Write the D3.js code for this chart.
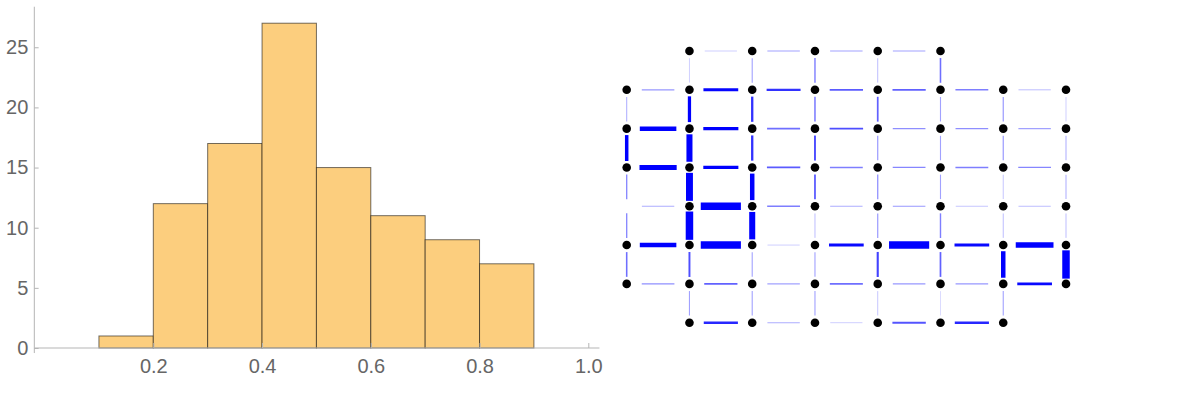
<!DOCTYPE html>
<html lang="en">
<head>
    <meta charset="utf-8">
    <script src="https://d3js.org/d3.v7.min.js"></script>
    <style>
        body { margin: 0; background: #fff; }
        text { font-family: "Liberation Sans", Arial, sans-serif; }
    </style>
</head>
<body>
<script>
    // histogram: bin edges and counts
    var binStarts = [0.1, 0.2, 0.3, 0.4, 0.5, 0.6, 0.7, 0.8];
    var binWidth = 0.1;
    var counts = [1, 12, 17, 27, 15, 11, 9, 7];
    var xTickLabels = [0.2, 0.4, 0.6, 0.8, 1.0];
    var yTickLabels = [0, 5, 10, 15, 20, 25];

    // grid graph: which columns exist in each row
    var rowCols = [
        [1, 2, 3, 4, 5],
        [0, 1, 2, 3, 4, 5, 6, 7],
        [0, 1, 2, 3, 4, 5, 6, 7],
        [0, 1, 2, 3, 4, 5, 6, 7],
        [0, 1, 2, 3, 4, 5, 6, 7],
        [0, 1, 2, 3, 4, 5, 6, 7],
        [0, 1, 2, 3, 4, 5, 6, 7],
        [1, 2, 3, 4, 5, 6]
    ];
    // vertex drawn without a dot
    var hiddenDots = [[4, 0]];

    // edge weights, horizontal: (r,c)-(r,c+1); null = no edge
    var hWeights = [
        [null, 0.01, 0.04, 0.04, 0.04, null, null],
        [0.05, 0.29, 0.20, 0.13, 0.12, 0.08, 0.02],
        [0.48, 0.32, 0.10, 0.15, 0.06, 0.06, 0.04],
        [0.55, 0.32, 0.13, 0.08, 0.07, 0.08, 0.07],
        [0.03, 0.87, 0.08, 0.03, 0.05, 0.015, 0.02],
        [0.48, 0.87, 0.01, 0.28, 0.87, 0.28, 0.61],
        [0.06, 0.12, 0.04, 0.10, 0.05, 0.05, 0.28],
        [null, 0.22, 0.03, 0.01, 0.14, 0.22, null]
    ];
    // edge weights, vertical: (r,c)-(r+1,c)
    var vWeights = [
        [null, 0.01, 0.04, 0.08, 0.02, 0.10, null, null],
        [0.03, 0.32, 0.20, 0.09, 0.12, 0.04, 0.05, 0.01],
        [0.35, 0.68, 0.20, 0.15, 0.05, 0.04, 0.05, 0.03],
        [0.07, 0.80, 0.48, 0.13, 0.06, 0.04, 0.015, 0.03],
        [0.07, 0.87, 0.68, 0.02, 0.05, 0.08, 0.02, 0.02],
        [0.10, 0.15, 0.04, 0.04, 0.17, 0.12, 0.48, 0.87],
        [null, 0.04, 0.04, 0.04, 0.015, 0.005, 0.04, null]
    ];

    var W = 1196, H = 403;
    var svg = d3.select("body").append("svg")
        .attr("width", W)
        .attr("height", H);

    // ---------- histogram ----------
    var x = d3.scaleLinear().domain([0, 1]).range([44.55, 588.3]);
    var y = d3.scaleLinear().domain([0, 27]).range([348, 23.2]);
    var axisColor = "#b5b5b5", labelColor = "#666";

    var hist = svg.append("g");

    hist.selectAll("rect")
        .data(counts)
        .enter()
        .append("rect")
        .attr("x", function (d, i) { return x(binStarts[i]); })
        .attr("width", function (d, i) { return x(binStarts[i] + binWidth) - x(binStarts[i]); })
        .attr("y", function (d) { return y(d); })
        .attr("height", function (d) { return y(0) - y(d); })
        .attr("fill", "#fcce7e")
        .attr("stroke", "rgba(0,0,0,0.55)")
        .attr("stroke-width", 1);

    // axis lines
    hist.append("line")
        .attr("x1", x(-0.0188)).attr("x2", x(1.0205))
        .attr("y1", y(0)).attr("y2", y(0))
        .attr("stroke", axisColor);
    hist.append("line")
        .attr("x1", x(-0.0188)).attr("x2", x(-0.0188))
        .attr("y1", y(-0.42)).attr("y2", y(28.37))
        .attr("stroke", axisColor);

    // x ticks
    var xMinor = d3.range(0, 1.0001, 0.05).filter(function (v) {
        return Math.abs(v * 5 - Math.round(v * 5)) > 1e-6 || v < 0.01;
    });
    var xg = hist.append("g").attr("transform", "translate(0," + y(0) + ")");
    xg.call(d3.axisBottom(x).tickValues(xMinor).tickSize(-2.7).tickFormat(""));
    xg.call(d3.axisBottom(x).tickValues(xTickLabels).tickSize(-5).tickPadding(11)
        .tickFormat(d3.format(".1f")));
    xg.selectAll(".domain").remove();
    xg.selectAll("line").attr("stroke", axisColor);
    xg.selectAll("text").attr("fill", labelColor).style("font-size", "20px")
        .style("font-family", "'Liberation Sans', Arial, sans-serif");

    // y ticks
    var yMinor = d3.range(0, 29).filter(function (v) { return v % 5 !== 0; });
    var yg = hist.append("g").attr("transform", "translate(" + x(-0.0188) + ",0)");
    yg.call(d3.axisLeft(y).tickValues(yMinor).tickSize(-2).tickFormat(""));
    yg.call(d3.axisLeft(y).tickValues(yTickLabels).tickSize(-4.3).tickPadding(6));
    yg.selectAll(".domain").remove();
    yg.selectAll("line").attr("stroke", axisColor);
    yg.selectAll("text").attr("fill", labelColor).style("font-size", "20px")
        .style("font-family", "'Liberation Sans', Arial, sans-serif");

    // ---------- grid graph ----------
    var gx = d3.scaleLinear().domain([0, 7]).range([626.7, 1066]);
    var gy = d3.scaleLinear().domain([0, 7]).range([51, 322.7]);
    var widthScale = d3.scaleLinear().domain([0, 1]).range([0.8, 8.5]);
    var opacityScale = d3.scalePow().exponent(0.6).domain([0, 0.3]).range([0.1, 1]).clamp(true);

    var edges = [];
    hWeights.forEach(function (row, r) {
        row.forEach(function (w, c) {
            if (w !== null) edges.push({ r: r, c: c, w: w, dir: "h" });
        });
    });
    vWeights.forEach(function (row, r) {
        row.forEach(function (w, c) {
            if (w !== null) edges.push({ r: r, c: c, w: w, dir: "v" });
        });
    });

    var graph = svg.append("g");

    graph.selectAll("line.edge")
        .data(edges)
        .enter()
        .append("line")
        .attr("class", "edge")
        .each(function (d) {
            var sw = widthScale(d.w);
            var el = d3.select(this);
            if (d.dir === "h") {
                var gap = 15.8 - 0.6 * sw;
                el.attr("x1", gx(d.c) + gap).attr("x2", gx(d.c + 1) - gap)
                  .attr("y1", gy(d.r)).attr("y2", gy(d.r));
            } else {
                var gapV = 7.5 - 0.3 * sw;
                el.attr("x1", gx(d.c)).attr("x2", gx(d.c))
                  .attr("y1", gy(d.r) + gapV).attr("y2", gy(d.r + 1) - gapV);
            }
            el.attr("stroke", "#0000ff")
              .attr("stroke-width", sw)
              .attr("stroke-opacity", opacityScale(d.w));
        });

    var nodes = [];
    rowCols.forEach(function (cols, r) {
        cols.forEach(function (c) {
            var hidden = hiddenDots.some(function (p) { return p[0] === r && p[1] === c; });
            if (!hidden) nodes.push({ r: r, c: c });
        });
    });

    graph.selectAll("circle")
        .data(nodes)
        .enter()
        .append("circle")
        .attr("cx", function (d) { return gx(d.c); })
        .attr("cy", function (d) { return gy(d.r); })
        .attr("r", 4.3)
        .attr("fill", "#000");
</script>
</body>
</html>
